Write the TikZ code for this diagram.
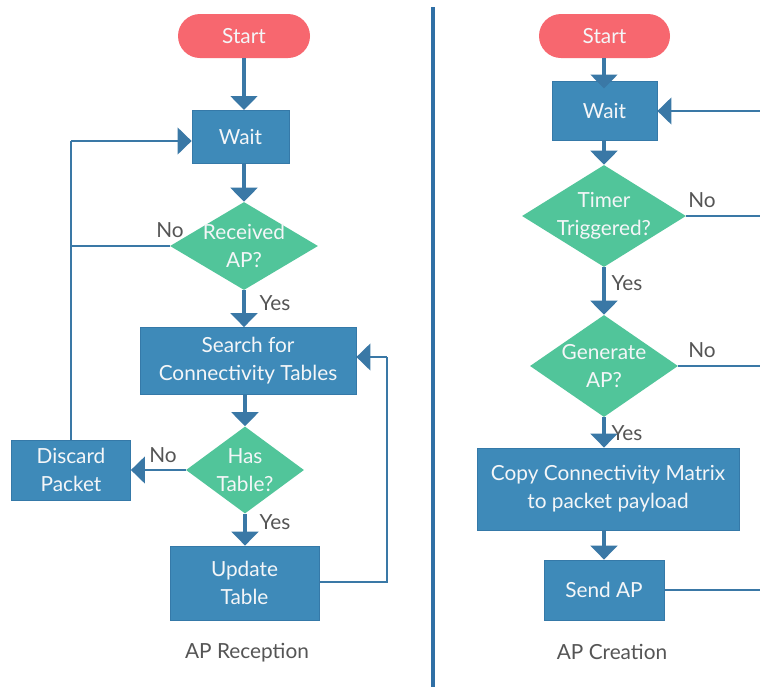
\documentclass[tikz,border=0pt]{standalone}
\usepackage{fontspec}
\setmainfont{Lato}
\usetikzlibrary{arrows.meta,shapes.geometric}
\definecolor{boxblue}{HTML}{3E8AB9}
\definecolor{boxedge}{HTML}{3579A8}
\definecolor{arrowblue}{HTML}{3A78A6}
\definecolor{dgreen}{HTML}{51C59A}
\definecolor{startred}{HTML}{F7676F}
\definecolor{labelgray}{HTML}{555555}
\definecolor{divblue}{HTML}{2F6FA5}
\definecolor{txtwhite}{HTML}{F4F6F8}
\begin{document}
\begin{tikzpicture}[x=0.75pt,y=-0.75pt,
  font=\fontsize{15.6pt}{21pt}\selectfont,
  procbox/.style={rectangle,fill=boxblue,draw=boxedge,line width=0.6pt,text=txtwhite,align=center,inner sep=0pt},
  decision/.style={diamond,fill=dgreen,draw=none,inner sep=0pt,
     label={[text=txtwhite,align=center,inner sep=0pt]center:#1}},
  startnode/.style={rectangle,rounded corners=16.5pt,fill=startred,draw=none,text=txtwhite,inner sep=0pt},
  flow/.style={draw=arrowblue,line width=2.3pt,-{Triangle[width=20pt,length=10.5pt]}},
  loopline/.style={draw=arrowblue,line width=1.7pt},
  looparrow/.style={draw=arrowblue,line width=1.7pt,-{Triangle[width=20pt,length=10.5pt]}},
  lbl/.style={text=labelgray,inner sep=0pt},
]
\useasboundingbox (0,0) rectangle (760,686);
\fill[white] (0,0) rectangle (760,686);

% divider
\draw[divblue,line width=2.3pt] (433,7) -- (433,690);

% ---------------- Left: AP Reception ----------------
\node[startnode,minimum width=99pt,minimum height=33pt] (ls) at (244,36) {Start};
\node[procbox,minimum width=72.75pt,minimum height=39.75pt] (lw) at (240.5,137) {Wait};
\node[decision={Received\\AP?},minimum width=111pt,minimum height=66pt] (lr) at (244,246) {};
\node[procbox,minimum width=162pt,minimum height=50.25pt] (ls2) at (248,361) {Search for\\Connectivity Tables};
\node[decision={Has\\Table?},minimum width=88.5pt,minimum height=65.25pt] (lh) at (245,470) {};
\node[procbox,minimum width=89.25pt,minimum height=45pt] (ld) at (71,470) {Discard\\Packet};
\node[procbox,minimum width=111.75pt,minimum height=55.5pt] (lu) at (244.5,583) {Update\\Table};
\node[lbl] (lcap) at (247,653) {AP Reception};

\coordinate (lloopA) at (71,141);
\coordinate (lloopB) at (71,246);
\coordinate (lloopC) at (387,582);
\coordinate (lloopD) at (387,357);

\draw[flow] (ls.south -| 244,0) -- (244,110);
\draw[flow] (lw.south -| 244,0) -- (lr.north);
\draw[flow] (lr.south) -- (ls2.north -| lr.south);
\draw[flow] (ls2.south -| lh.north) -- (lh.north);
\draw[flow] (lh.south) -- (lu.north -| lh.south);
\draw[looparrow] (lh.west) -- (ld.east);
\draw[loopline] (lr.west) -- (lloopB);
\draw[loopline] (ld.north) -- (lloopA);
\draw[looparrow] (lloopA) -- (lw.west |- lloopA);
\draw[loopline] (lu.east |- lloopC) -- (lloopC) -- (lloopD);
\draw[looparrow] (lloopD) -- (ls2.east |- lloopD);

\node[lbl] (lno1) at (170,230) {No};
\node[lbl] (lyes1) at (275,303) {Yes};
\node[lbl] (lno2) at (163,455) {No};
\node[lbl] (lyes2) at (275,522) {Yes};

% ---------------- Right: AP Creation ----------------
\node[startnode,minimum width=98.25pt,minimum height=33pt] (rs) at (604.5,36) {Start};
\node[procbox,minimum width=78.75pt,minimum height=44.25pt] (rw) at (604.5,110.5) {Wait};
\node[decision={Timer\\Triggered?},minimum width=123pt,minimum height=76.5pt] (rt) at (604,216) {};
\node[decision={Generate\\AP?},minimum width=111pt,minimum height=76.5pt] (rg) at (604,366) {};
\node[procbox,minimum width=196.5pt,minimum height=61.5pt] (rc) at (608,489) {Copy Connectivity Matrix\\to packet payload};
\node[procbox,minimum width=90pt,minimum height=45pt] (rsend) at (604,590) {Send AP};
\node[lbl] (rcap) at (612,652) {AP Creation};

\coordinate (redge1) at (775,111);
\coordinate (redge2) at (775,216);
\coordinate (redge3) at (775,366);
\coordinate (redge4) at (775,590);

\draw[flow] (rs.south -| 604,0) -- (604,88.5);
\draw[flow] (rw.south -| rt.north) -- (rt.north);
\draw[flow] (rt.south) -- (rg.north);
\draw[flow] (rg.south) -- (rc.north -| rg.south);
\draw[flow] (rc.south -| 604,0) -- (rsend.north);
\draw[looparrow] (redge1) -- (rw.east |- redge1);
\draw[loopline] (rt.east) -- (redge2);
\draw[loopline] (rg.east) -- (redge3);
\draw[loopline] (rsend.east) -- (redge4);
\draw[loopline] (redge1) -- (redge4);

\node[lbl] (rno1) at (702,200) {No};
\node[lbl] (ryes1) at (627,283) {Yes};
\node[lbl] (rno2) at (702,350) {No};
\node[lbl] (ryes2) at (627,433) {Yes};
\end{tikzpicture}
\end{document}
